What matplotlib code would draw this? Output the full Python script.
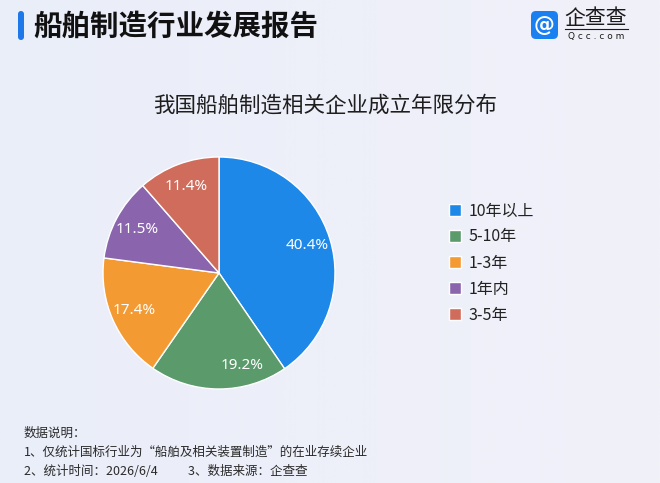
import matplotlib
matplotlib.use("Agg")
import matplotlib.pyplot as plt
from matplotlib.patches import FancyBboxPatch
import numpy as np

plt.rcParams['font.family'] = ['Noto Sans CJK SC', 'DejaVu Sans']

# ---- data ----
categories = ["10年以上", "5-10年", "1-3年", "1年内", "3-5年"]
values = [40.4, 19.2, 17.4, 11.5, 11.4]
colors = ["#1E88E8", "#5A9A6B", "#F39A33", "#8A65AE", "#D06C5C"]
header_title = "船舶制造行业发展报告"
chart_title = "我国船舶制造相关企业成立年限分布"
notes = ["数据说明：",
         "1、仅统计国标行业为“船舶及相关装置制造”的在业存续企业",
         "2、统计时间：2026/6/4           3、数据来源：企查查"]

W, H = 660, 483
fig = plt.figure(figsize=(W / 100, H / 100), dpi=100)

def fx(x):
    return x / W

def fy(y):
    return 1 - y / H

# background
bg = fig.add_axes([0, 0, 1, 1])
bg.set_xlim(0, W)
bg.set_ylim(H, 0)
bg.axis("off")
grad = np.linspace(0, 1, 256)
c1 = np.array([234, 238, 249]) / 255
c2 = np.array([241, 241, 249]) / 255
img = c1[None, None, :] * (1 - grad[None, :, None]) + c2[None, None, :] * grad[None, :, None]
img = np.repeat(img, 2, axis=0)
bg.imshow(img, extent=[0, W, H, 0], aspect="auto", zorder=0)

# header bar
bg.add_patch(FancyBboxPatch((18, 11), 6, 29, boxstyle="round,pad=0,rounding_size=3",
                            facecolor="#1E78EA", edgecolor="none", zorder=2))
bg.text(33, 27, header_title, fontsize=20.5, fontweight="bold", color="#111111",
        va="center", ha="left", zorder=3)

# logo
bg.add_patch(FancyBboxPatch((531, 11), 27, 28, boxstyle="round,pad=0,rounding_size=5",
                            facecolor="#1A7FF0", edgecolor="none", zorder=2))
bg.text(544.5, 25, "@", fontsize=15, color="white", ha="center", va="center",
        fontweight="bold", family="DejaVu Sans", zorder=3)
bg.text(596, 18, "企查查", fontsize=15, color="#1a1a1a", ha="center", va="center", zorder=3)
bg.plot([565, 628], [28.5, 28.5], color="#1a1a1a", lw=0.8, zorder=3)
bg.text(596, 36, "Q c c . c o m", fontsize=6.5, color="#1a1a1a", ha="center", va="center",
        family="DejaVu Sans", zorder=3)

# chart title
bg.text(325, 106, chart_title, fontsize=15.5, color="#1e1e1e", ha="center", va="center", zorder=3)

# pie
cx, cy, r = 219, 273, 116
ax = fig.add_axes([fx(cx - r), fy(cy + r), 2 * r / W, 2 * r / H])
wedges, texts, autotexts = ax.pie(
    values, colors=colors, startangle=90, counterclock=False,
    autopct=lambda p: f"{p:.1f}%", pctdistance=0.8,
    wedgeprops=dict(edgecolor="white", linewidth=1.0),
    textprops=dict(color="white", fontsize=11))
ax.set_aspect("equal")
ax.set_xlim(-1, 1)
ax.set_ylim(-1, 1)
for t in autotexts:
    t.set_family(["Noto Sans", "DejaVu Sans"])
# small nudge of the 19.2% label as in the reference
autotexts[1].set_x(autotexts[1].get_position()[0] + 0.2)

# legend
leg = fig.legend(wedges, categories, loc="upper left",
                 bbox_to_anchor=(fx(435), fy(188)), frameon=False,
                 fontsize=11.5, handlelength=0.75, handleheight=0.75,
                 handletextpad=0.45, labelspacing=0.57, labelcolor="#222222")

# footer notes
for i, line in enumerate(notes):
    bg.text(24, 433 + i * 19.3, line, fontsize=9, color="#2a2a2a",
            ha="left", va="center", zorder=3)

fig.savefig("out.png", dpi=100)
